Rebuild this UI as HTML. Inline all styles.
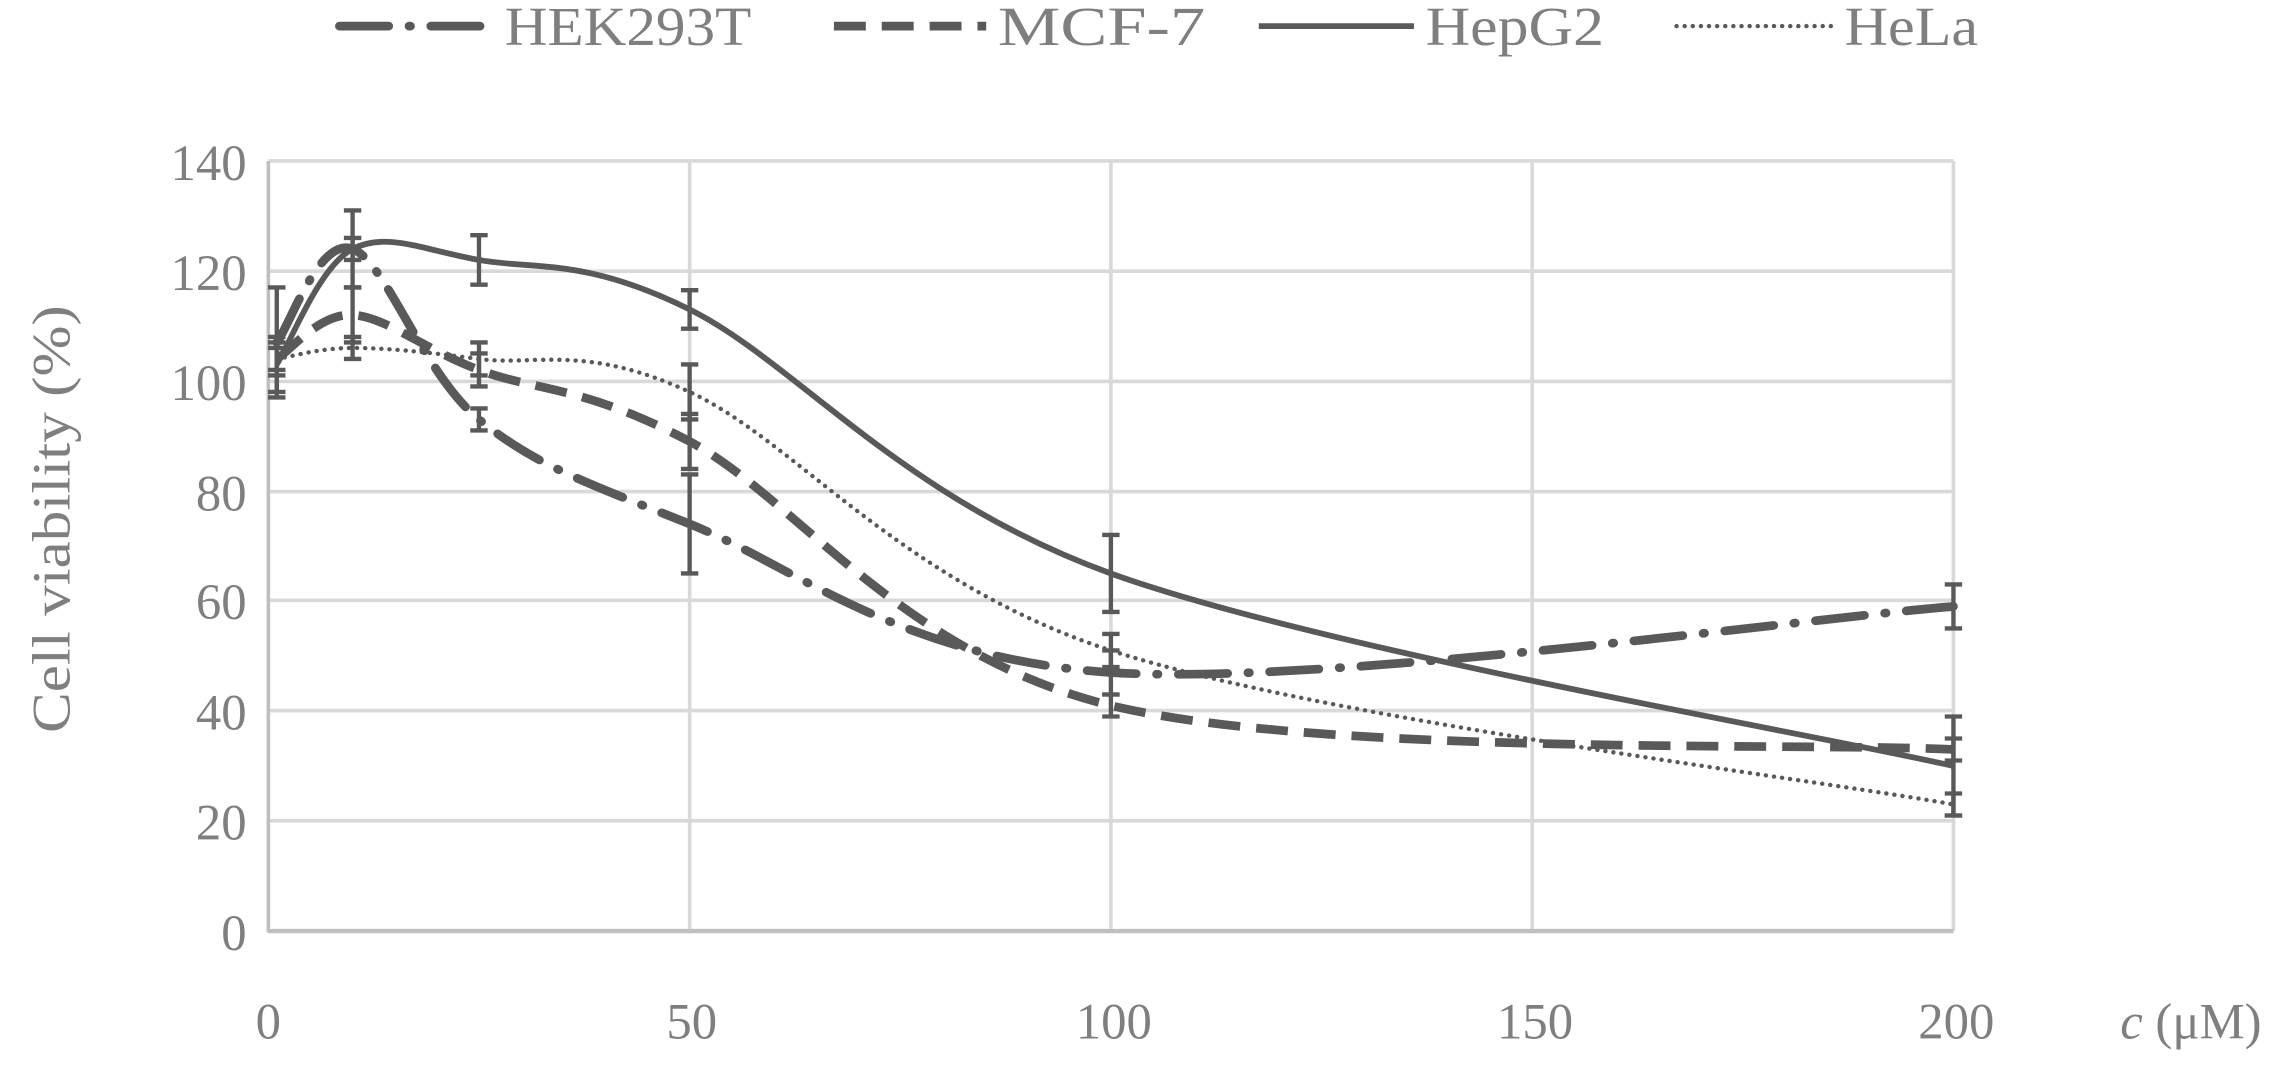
<!DOCTYPE html>
<html><head><meta charset="utf-8"><style>
html,body{margin:0;padding:0;background:#fff;}
svg{display:block;}
text{font-family:"Liberation Serif",serif;fill:#7f7f7f;}
</style></head><body>
<svg id="s" width="2274" height="1074" viewBox="0 0 1568 740.6" xmlns="http://www.w3.org/2000/svg">
<g stroke="#d9d9d9" stroke-width="2.5">
<line x1="185" y1="111" x2="1347" y2="111"/>
<line x1="185" y1="187" x2="1347" y2="187"/>
<line x1="185" y1="263" x2="1347" y2="263"/>
<line x1="185" y1="339" x2="1347" y2="339"/>
<line x1="185" y1="414" x2="1347" y2="414"/>
<line x1="185" y1="490" x2="1347" y2="490"/>
<line x1="185" y1="566" x2="1347" y2="566"/>
<line x1="475.5" y1="111" x2="475.5" y2="642"/>
<line x1="766" y1="111" x2="766" y2="642"/>
<line x1="1056.5" y1="111" x2="1056.5" y2="642"/>
<line x1="1347" y1="111" x2="1347" y2="642"/>
</g>
<line x1="185" y1="111" x2="185" y2="643" stroke="#bfbfbf" stroke-width="2.5"/>
<line x1="185" y1="642" x2="1347" y2="642" stroke="#bfbfbf" stroke-width="3"/>
<g font-size="35" text-anchor="end">
<text x="170" y="124">140</text><text x="170" y="200">120</text><text x="170" y="276">100</text>
<text x="170" y="352">80</text><text x="170" y="427">60</text><text x="170" y="503">40</text>
<text x="170" y="579">20</text><text x="170" y="655">0</text>
</g>
<g font-size="35" text-anchor="middle">
<text x="185" y="716">0</text><text x="477" y="716">50</text><text x="768" y="716">100</text>
<text x="1058.5" y="716">150</text><text x="1349" y="716">200</text>
</g>
<text x="1462" y="716" font-size="35"><tspan font-style="italic">c</tspan> (μM)</text>
<text transform="translate(48,358) rotate(-90)" font-size="37" text-anchor="middle" textLength="295" lengthAdjust="spacingAndGlyphs">Cell viability (%)</text>
<g font-size="38">
<line x1="234" y1="18" x2="340" y2="18" stroke="#595959" stroke-width="6" stroke-linecap="round" stroke-dasharray="34 14 1 14"/>
<text x="348" y="31" textLength="170" lengthAdjust="spacingAndGlyphs">HEK293T</text>
<line x1="575" y1="18" x2="680" y2="18" stroke="#595959" stroke-width="6" stroke-dasharray="22 11"/>
<text x="688" y="31" textLength="143" lengthAdjust="spacingAndGlyphs">MCF-7</text>
<line x1="868" y1="18" x2="975" y2="18" stroke="#595959" stroke-width="4"/>
<text x="983" y="31" textLength="123" lengthAdjust="spacingAndGlyphs">HepG2</text>
<line x1="1156" y1="18" x2="1265" y2="18" stroke="#595959" stroke-width="3" stroke-linecap="round" stroke-dasharray="0.1 5.5"/>
<text x="1272" y="31" textLength="92" lengthAdjust="spacingAndGlyphs">HeLa</text>
</g>
<g id="g"></g>
</svg>
<script>
var X=function(v){return 185+v*5.81;},Y=function(v){return 642-v*3.793;};
var xs=[1,10,25,50,100,200];
var S=[
 {y:[107,124,93,74,47,59],e:[10,2,2,9,4,4],w:6,d:"34 14 1 14",c:"round"},
 {y:[104,112,102,89,41,33],e:[3,5,3,5,2,2],w:6,d:"22 11",c:"butt"},
 {y:[103,124,122,113,65,30],e:[5,7,4.5,3.5,7,9],w:4,d:"",c:"butt"},
 {y:[104,106,104,98,51,23],e:[2,2,3,5,3,2],w:3,d:"0.1 5.5",c:"round"}
];
var g=document.getElementById('g'),h='';
S.forEach(function(s){
 var p=xs.map(function(x,i){return [X(x),Y(s.y[i])];});
 var d='M'+p[0][0]+','+p[0][1];
 for(var i=0;i<p.length-1;i++){
  var p0=p[i-1]||p[i],p1=p[i],p2=p[i+1],p3=p[i+2]||p2,t=6;
  d+=' C'+(p1[0]+(p2[0]-p0[0])/t)+','+(p1[1]+(p2[1]-p0[1])/t)+' '+(p2[0]-(p3[0]-p1[0])/t)+','+(p2[1]-(p3[1]-p1[1])/t)+' '+p2[0]+','+p2[1];
 }
 h+='<path d="'+d+'" fill="none" stroke="#595959" stroke-width="'+s.w+'" stroke-linecap="'+s.c+'"'+(s.d?' stroke-dasharray="'+s.d+'"':'')+'/>';
 xs.forEach(function(x,i){
  var cx=X(x),a=Y(s.y[i]+s.e[i]),b=Y(s.y[i]-s.e[i]);
  h+='<g stroke="#595959" stroke-width="3"><line x1="'+cx+'" y1="'+a+'" x2="'+cx+'" y2="'+b+'"/><line x1="'+(cx-6)+'" y1="'+a+'" x2="'+(cx+6)+'" y2="'+a+'"/><line x1="'+(cx-6)+'" y1="'+b+'" x2="'+(cx+6)+'" y2="'+b+'"/></g>';
 });
});
g.innerHTML=h;
</script>
</body></html>
